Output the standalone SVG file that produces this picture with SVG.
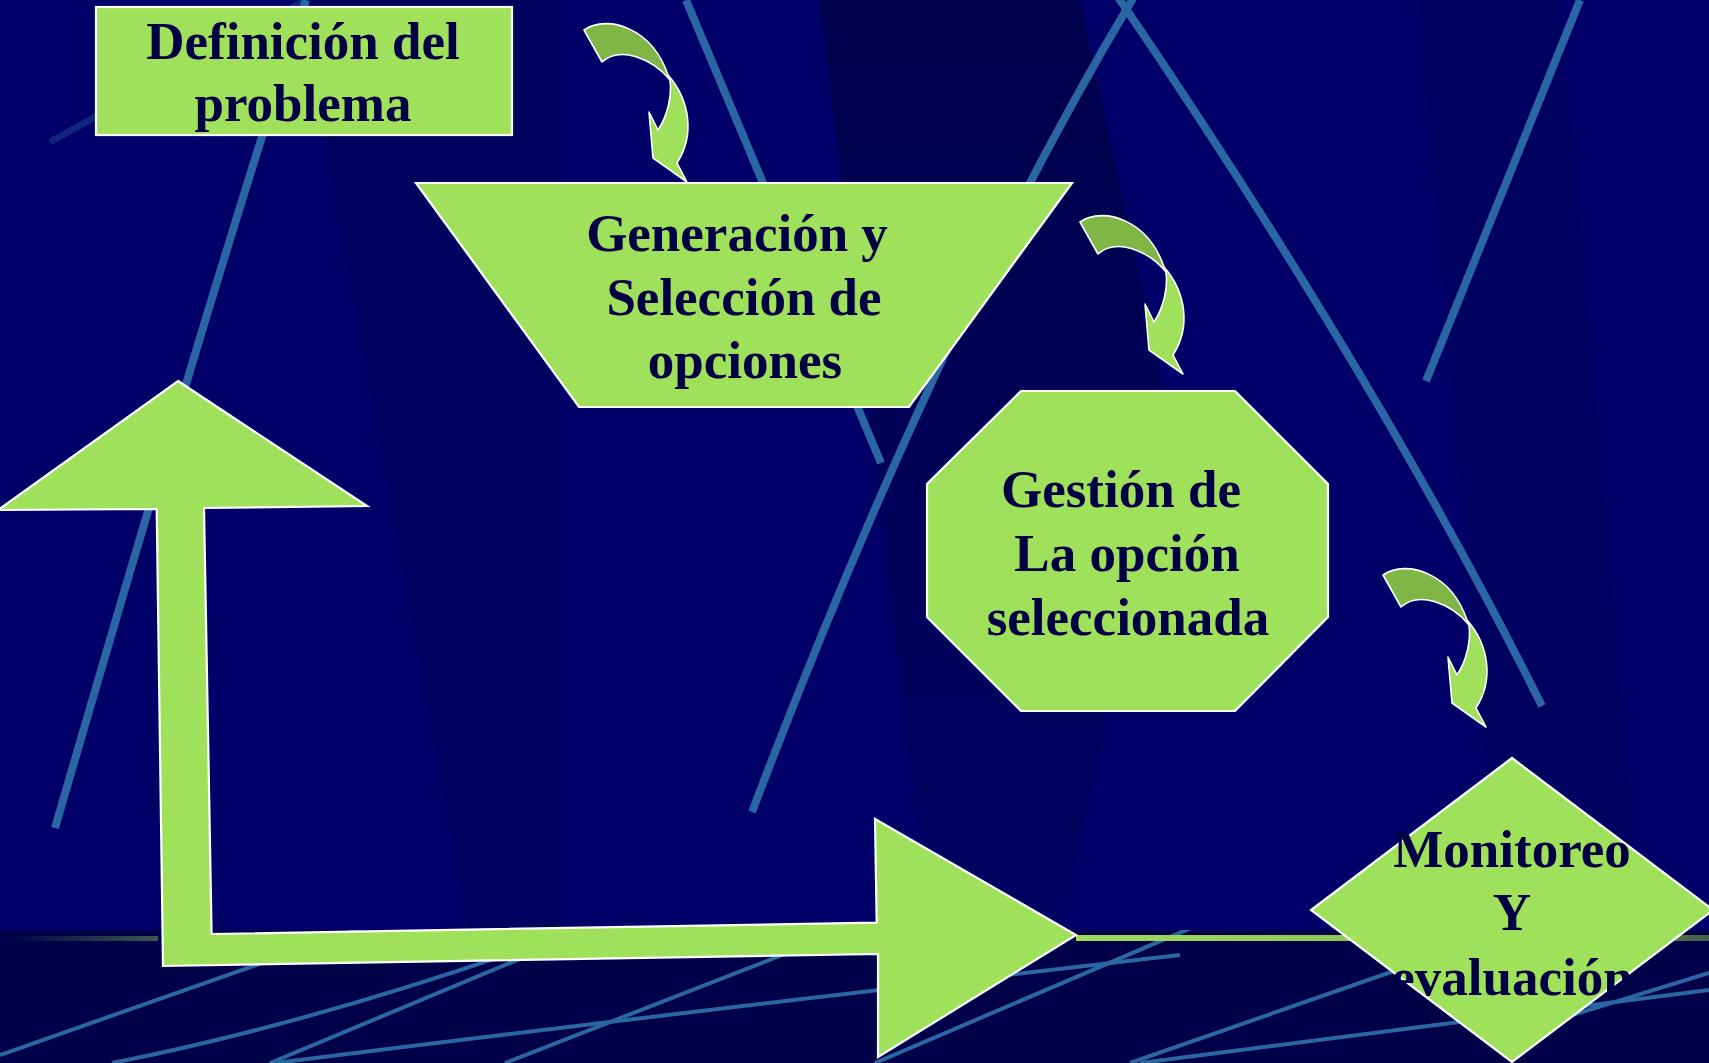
<svg xmlns="http://www.w3.org/2000/svg" width="1709" height="1063" viewBox="0 0 1709 1063">
<defs>
<style>
.node{fill:#a0e15b;stroke:#ffffff;stroke-width:2.2;stroke-linejoin:miter}
.lbl{font-family:"Liberation Serif","Times New Roman",serif;font-weight:bold;font-size:53px;fill:#000045;text-anchor:middle}
.bl{fill:none;stroke:#2a66a4;stroke-width:8;stroke-linecap:butt}
.ll{fill:none;stroke:#2a66a4;stroke-width:4}
.back{fill:#80b646;stroke:#ffffff;stroke-width:1.6;stroke-linejoin:round}
.front{fill:#a0e15b;stroke:#ffffff;stroke-width:1.6;stroke-linejoin:round}
</style>
<linearGradient id="fadeDown" x1="0" y1="0" x2="0" y2="1">
<stop offset="0" stop-color="#2a66a4" stop-opacity="1"/>
<stop offset="0.75" stop-color="#2a66a4" stop-opacity="0.9"/>
<stop offset="1" stop-color="#2a66a4" stop-opacity="0"/>
</linearGradient>
<linearGradient id="horizL" x1="0" y1="0" x2="1" y2="0">
<stop offset="0" stop-color="#3c5a4c" stop-opacity="0"/>
<stop offset="1" stop-color="#3c5a4c" stop-opacity="1"/>
</linearGradient>
<linearGradient id="horizR" x1="1076" y1="0" x2="1709" y2="0" gradientUnits="userSpaceOnUse">
<stop offset="0" stop-color="#9fdc5a"/>
<stop offset="0.45" stop-color="#8fc658"/>
<stop offset="1" stop-color="#46604c"/>
</linearGradient>
<linearGradient id="shadeV" x1="0" y1="0" x2="0" y2="1">
<stop offset="0" stop-color="#000040" stop-opacity="0.7"/>
<stop offset="1" stop-color="#000040" stop-opacity="0.15"/>
</linearGradient>
<clipPath id="upper"><rect x="0" y="0" width="1709" height="930"/></clipPath>
<clipPath id="lower"><rect x="0" y="930" width="1709" height="133"/></clipPath>
</defs>

<g id="background">
<rect x="0" y="0" width="1709" height="930" fill="#000068"/>
<polygon points="300,0 560,0 560,930 470,930" fill="#000050" opacity="0.35"/>
<polygon points="820,0 1080,0 1170,420 1060,930 930,930" fill="url(#shadeV)"/>
<polygon points="1420,0 1560,0 1640,930 1500,930" fill="#000050" opacity="0.3"/>
<rect x="0" y="930" width="1709" height="133" fill="#000048"/>
<g clip-path="url(#upper)">
<path class="bl" d="M306,0 Q220,260 55,828" stroke="url(#fadeDown)"/>
<path d="M306,0 L50,142" fill="none" stroke="#2a66a4" stroke-width="7" opacity="0.35"/>
<path class="bl" d="M686,0 L881,463" stroke="url(#fadeDown)"/>
<path class="bl" d="M1135,-5 Q937,325 752,812" stroke="url(#fadeDown)"/>
<path class="bl" d="M1118,-3 Q1381,383 1542,706" stroke="url(#fadeDown)"/>
<path class="bl" d="M1580,0 L1426,381" stroke="url(#fadeDown)" stroke-width="7"/>
</g>
<g clip-path="url(#lower)">
<path class="ll" d="M0,1055 L370,925"/>
<path class="ll" d="M112,1063 Q330,1020 590,925"/>
<path class="ll" d="M270,1063 L601,925"/>
<path class="ll" d="M275,1063 Q700,1010 1180,955"/>
<path class="ll" d="M505,1063 L859,925"/>
<path class="ll" d="M875,1063 L1198,925"/>
<path class="ll" d="M1130,1063 L1440,955"/>
<path class="ll" d="M1140,1063 L1709,990"/>
<path class="ll" d="M1540,1025 L1709,973"/>
</g>
<rect x="8" y="936" width="150" height="5" fill="url(#horizL)"/>
<rect x="1076" y="935" width="633" height="6" fill="url(#horizR)"/>
</g>

<g id="connectors">
<g id="curved-arrow-1">
<path class="back" d="M584,30 C608,14 652,28 668,75 L670,80 C652,58 620,46 602,62 Z"/>
<path class="front" d="M668,75 C690,100 695,135 677,163 L687,182 L653,158 L649,112 L658,130 C668,115 672,95 670,80 Z"/>
</g>
<g id="curved-arrow-2" transform="translate(496,192)">
<path class="back" d="M584,30 C608,14 652,28 668,75 L670,80 C652,58 620,46 602,62 Z"/>
<path class="front" d="M668,75 C690,100 695,135 677,163 L687,182 L653,158 L649,112 L658,130 C668,115 672,95 670,80 Z"/>
</g>
<g id="curved-arrow-3" transform="translate(799,545)">
<path class="back" d="M584,30 C608,14 652,28 668,75 L670,80 C652,58 620,46 602,62 Z"/>
<path class="front" d="M668,75 C690,100 695,135 677,163 L687,182 L653,158 L649,112 L658,130 C668,115 672,95 670,80 Z"/>
</g>
<g id="feedback-arrow">
<polygon class="node" points="178,381 367,506 204,508 211.6,934 876.7,922.7 875,819 1076,935 878,1057 878,954 163,966 156.7,509 -2,510"/>
</g>
</g>

<g id="node-definicion">
<rect class="node" x="96" y="7" width="416" height="128"/>
<text class="lbl" x="303" y="59">Definición del</text>
<text class="lbl" x="303" y="121">problema</text>
</g>

<g id="node-generacion">
<polygon class="node" points="416,183 1072,183 909,407 579,407"/>
<text class="lbl" x="737" y="251">Generación y</text>
<text class="lbl" x="744" y="315">Selección de</text>
<text class="lbl" x="745" y="378">opciones</text>
</g>

<g id="node-gestion">
<polygon class="node" points="1021,391 1235,391 1328,484 1328,617 1235,711 1021,711 927,617 927,484"/>
<text class="lbl" x="1121" y="507">Gestión de</text>
<text class="lbl" x="1127" y="571">La opción</text>
<text class="lbl" x="1128" y="635">seleccionada</text>
</g>

<g id="node-monitoreo">
<polygon class="node" points="1512,758 1713,910 1512,1062 1311,910"/>
<text class="lbl" x="1512" y="867">Monitoreo</text>
<text class="lbl" x="1512" y="930">Y</text>
<text class="lbl" x="1512" y="995">evaluación</text>
</g>
</svg>
